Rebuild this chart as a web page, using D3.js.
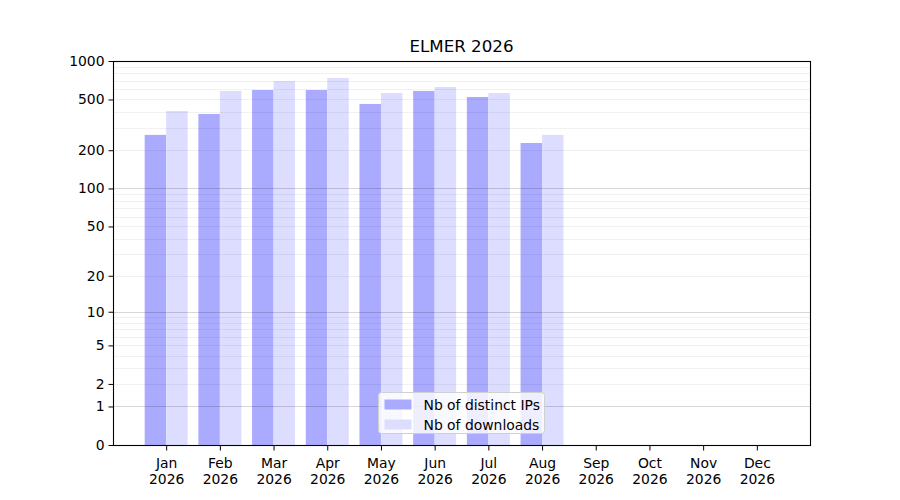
<!DOCTYPE html>
<html>
<head>
<meta charset="utf-8">
<script src="https://cdn.jsdelivr.net/npm/d3@7"></script>
<style>
  body { margin: 0; background: #fff; }
  text { font-family: "DejaVu Sans", sans-serif; }
</style>
</head>
<body>
<div id="chart"></div>
<script>
var title = "ELMER 2026";
var months = ["Jan", "Feb", "Mar", "Apr", "May", "Jun", "Jul", "Aug", "Sep", "Oct", "Nov", "Dec"];
var year = "2026";
var distinctIPs = [264, 385, 593, 593, 461, 583, 523, 228, 0, 0, 0, 0];
var downloads = [406, 583, 697, 736, 561, 626, 561, 264, 0, 0, 0, 0];
var yTicks = [0, 1, 2, 5, 10, 20, 50, 100, 200, 500, 1000];
var seriesNames = ["Nb of distinct IPs", "Nb of downloads"];
var seriesColors = ["#aaaaff", "#ddddff"];

var W = 900, H = 500;
var margin = { left: 113, right: 90, top: 61, bottom: 55 };

var svg = d3.select("#chart").append("svg")
    .attr("width", W)
    .attr("height", H);

// month index -> pixel, bars span -0.4..11.4 plus 5% margin
var x = d3.scaleLinear()
    .domain([-0.99, 11.99])
    .range([margin.left, W - margin.right]);

var y = d3.scaleSymlog()
    .constant(1)
    .domain([0, 1000])
    .range([H - margin.bottom, margin.top]);

var barW = x(0.4) - x(0);

// bars
var series = [distinctIPs, downloads];
series.forEach((vals, s) => {
    svg.append("g")
        .selectAll("rect")
        .data(vals)
        .enter()
        .append("rect")
        .attr("x", (d, i) => x(i - 0.2 + s * 0.4) - barW / 2)
        .attr("width", barW)
        .attr("y", (d) => y(d))
        .attr("height", (d) => y(0) - y(d))
        .attr("fill", seriesColors[s]);
});

// grid: minor then major
var minor = [];
[1, 10, 100].forEach((dec) => {
    for (var k = 2; k <= 9; k++) minor.push(k * dec);
});
var major = [1, 10, 100];
var grid = svg.append("g");
grid.selectAll("line.minor")
    .data(minor)
    .enter()
    .append("line")
    .attr("class", "minor")
    .attr("x1", x.range()[0])
    .attr("x2", x.range()[1])
    .attr("y1", (d) => Math.round(y(d)) + 0.5)
    .attr("y2", (d) => Math.round(y(d)) + 0.5)
    .attr("stroke", "rgba(0,0,0,0.07)")
    .attr("stroke-width", 0.8);
grid.selectAll("line.major")
    .data(major)
    .enter()
    .append("line")
    .attr("class", "major")
    .attr("x1", x.range()[0])
    .attr("x2", x.range()[1])
    .attr("y1", (d) => Math.round(y(d)) + 0.5)
    .attr("y2", (d) => Math.round(y(d)) + 0.5)
    .attr("stroke", "rgba(0,0,0,0.2)")
    .attr("stroke-width", 0.8);

// axes
var yAxis = d3.axisLeft(y)
    .tickValues(yTicks)
    .tickFormat(d3.format("d"))
    .tickSize(5)
    .tickPadding(4);
var gy = svg.append("g")
    .attr("transform", "translate(" + (margin.left + 0.5) + ",0)")
    .call(yAxis);
gy.select(".domain").remove();
gy.selectAll("text").attr("font-size", 13.9).attr("fill", "#000");

var xAxis = d3.axisBottom(x)
    .tickValues(d3.range(months.length))
    .tickFormat("")
    .tickSize(5);
var gx = svg.append("g")
    .attr("transform", "translate(0," + (H - margin.bottom + 0.5) + ")")
    .call(xAxis);
gx.select(".domain").remove();
gx.selectAll(".tick").each(function (d) {
    var t = d3.select(this).append("text")
        .attr("fill", "#000")
        .attr("font-size", 13.9)
        .attr("text-anchor", "middle");
    t.append("tspan").attr("x", 0).attr("y", 22).text(months[d]);
    t.append("tspan").attr("x", 0).attr("y", 38).text(year);
});

// frame
svg.append("rect")
    .attr("x", x.range()[0] + 0.5)
    .attr("y", margin.top + 0.5)
    .attr("width", x.range()[1] - x.range()[0])
    .attr("height", H - margin.bottom - margin.top)
    .attr("fill", "none")
    .attr("stroke", "#000")
    .attr("stroke-width", 1.1);

// title
svg.append("text")
    .attr("x", (x.range()[0] + x.range()[1]) / 2)
    .attr("y", 52)
    .attr("text-anchor", "middle")
    .attr("font-size", 16.7)
    .text(title);

// legend, lower center
var leg = svg.append("g").attr("transform", "translate(378.5,392.5)");
leg.append("rect")
    .attr("width", 166)
    .attr("height", 41)
    .attr("rx", 3)
    .attr("fill", "rgba(255,255,255,0.8)")
    .attr("stroke", "#d0d0d0");
seriesNames.forEach((name, i) => {
    leg.append("rect")
        .attr("x", 6)
        .attr("y", 7 + i * 20)
        .attr("width", 27)
        .attr("height", 10)
        .attr("fill", seriesColors[i]);
    leg.append("text")
        .attr("x", 45)
        .attr("y", 17 + i * 20)
        .attr("font-size", 13.9)
        .text(name);
});
</script>
</body>
</html>
